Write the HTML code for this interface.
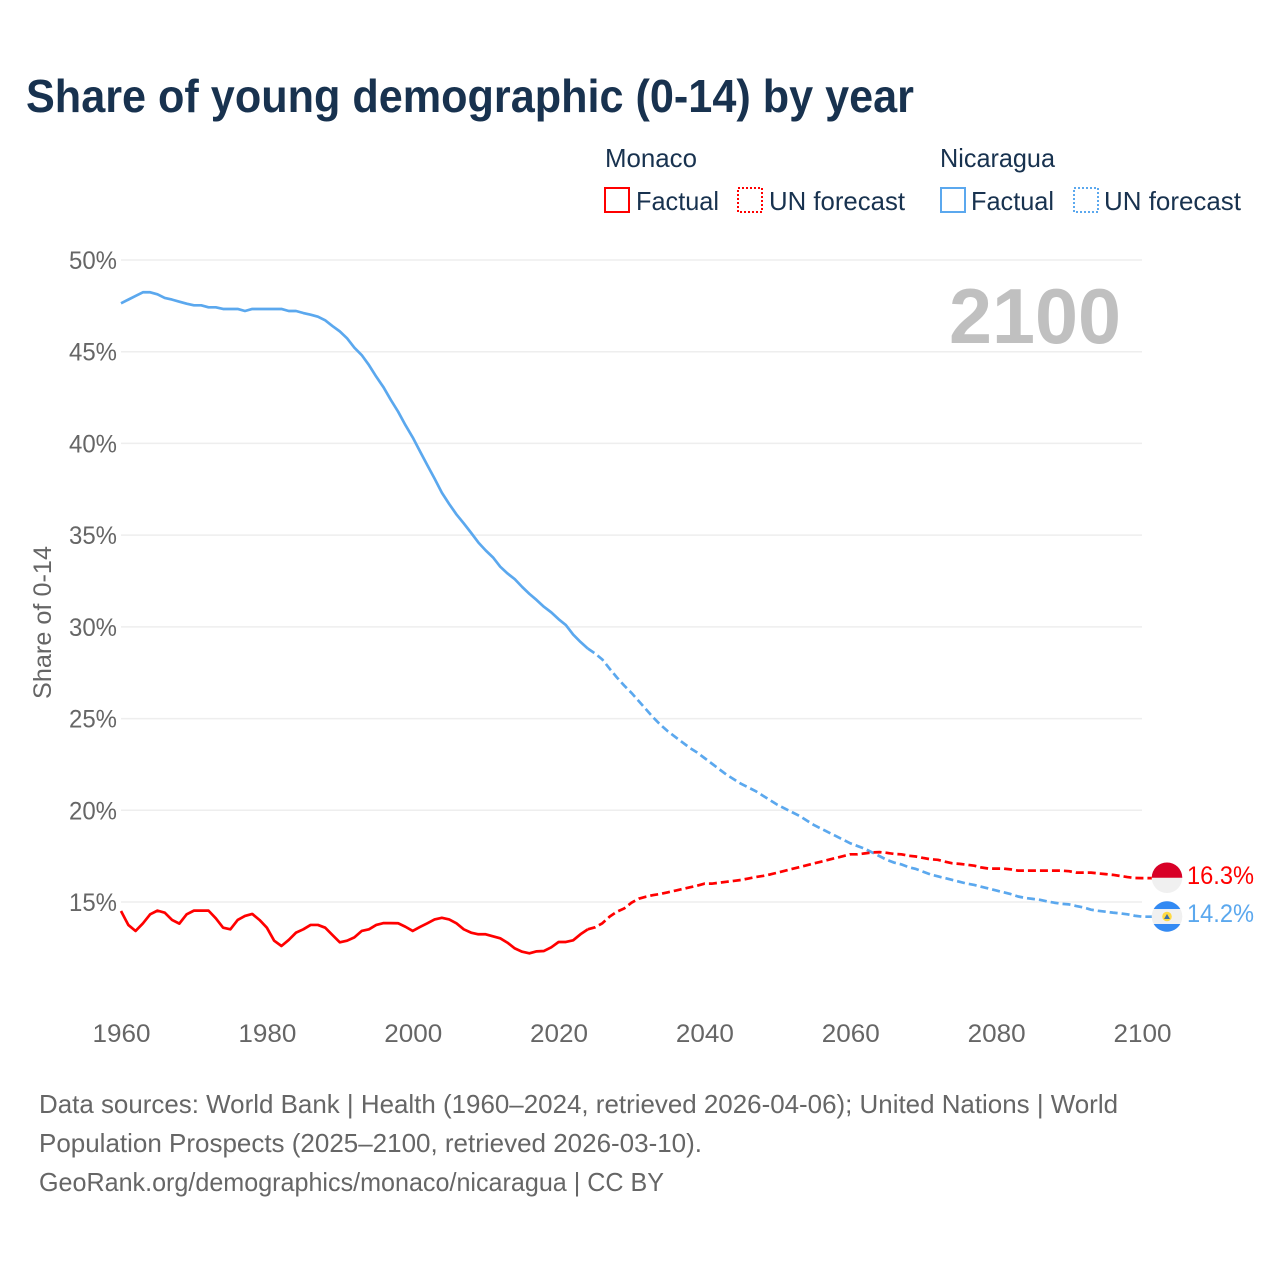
<!DOCTYPE html>
<html lang="en">
<head>
<meta charset="utf-8">
<title>Share of young demographic (0-14) by year</title>
<style>
html,body{margin:0;padding:0;background:#fff;}
svg{display:block;font-family:"Liberation Sans",sans-serif;}
</style>
</head>
<body>
<svg id="chart" width="1280" height="1280" viewBox="0 0 1280 1280" xmlns="http://www.w3.org/2000/svg">
<rect width="1280" height="1280" fill="#fff"/>
<text x="26" y="112" font-size="46" font-weight="700" fill="#18324f" textLength="888" lengthAdjust="spacingAndGlyphs">Share of young demographic (0-14) by year</text>

<g font-size="26" fill="#18324f">
<text x="605" y="167" textLength="92" lengthAdjust="spacingAndGlyphs">Monaco</text>
<text x="940" y="167" textLength="115" lengthAdjust="spacingAndGlyphs">Nicaragua</text>
<rect x="605" y="188" width="24" height="24" fill="none" stroke="#ff0000" stroke-width="2" shape-rendering="crispEdges"/>
<text x="636" y="210" textLength="83" lengthAdjust="spacingAndGlyphs">Factual</text>
<rect x="738" y="188" width="24" height="24" fill="none" stroke="#ff0000" stroke-width="2" stroke-dasharray="2 2" shape-rendering="crispEdges"/>
<text x="769" y="210" textLength="136" lengthAdjust="spacingAndGlyphs">UN forecast</text>
<rect x="941" y="188" width="24" height="24" fill="none" stroke="#5ba8ee" stroke-width="2" shape-rendering="crispEdges"/>
<text x="971" y="210" textLength="83" lengthAdjust="spacingAndGlyphs">Factual</text>
<rect x="1074" y="188" width="24" height="24" fill="none" stroke="#5ba8ee" stroke-width="2" stroke-dasharray="2 2" shape-rendering="crispEdges"/>
<text x="1104" y="210" textLength="137" lengthAdjust="spacingAndGlyphs">UN forecast</text>
</g>

<g id="grid"></g>
<g id="yticks"></g>
<g id="xticks"></g>

<text transform="translate(51,699) rotate(-90)" font-size="25" fill="#666" textLength="153" lengthAdjust="spacingAndGlyphs">Share of 0-14</text>
<text x="949" y="343" font-size="78" font-weight="700" fill="#c0c0c0" textLength="172" lengthAdjust="spacingAndGlyphs">2100</text>

<g id="lines"></g>

<g>
<circle cx="1167" cy="877.7" r="15.3" fill="#f0f0f0"/>
<path d="M1151.7 877.7a15.3 15.3 0 0 1 30.6 0z" fill="#d80027"/>
</g>
<g>
<circle cx="1167" cy="916.5" r="15.3" fill="#f0f0f0"/>
<path d="M1153.7 909a15.3 15.3 0 0 1 26.6 0z" fill="#338af3"/>
<path d="M1153.7 924a15.3 15.3 0 0 0 26.6 0z" fill="#338af3"/>
<circle cx="1167" cy="916.5" r="4.8" fill="#ffda44"/>
<path d="M1164 919l3-5 3 5z" fill="#3a6ea5"/>
</g>
<text x="1187" y="884" font-size="25" fill="#ff0000" textLength="67" lengthAdjust="spacingAndGlyphs">16.3%</text>
<text x="1187" y="922" font-size="25" fill="#5ba8ee" textLength="67" lengthAdjust="spacingAndGlyphs">14.2%</text>

<g font-size="26" fill="#666">
<text x="39" y="1113" textLength="1079" lengthAdjust="spacingAndGlyphs">Data sources: World Bank | Health (1960–2024, retrieved 2026-04-06); United Nations | World</text>
<text x="39" y="1152" textLength="663" lengthAdjust="spacingAndGlyphs">Population Prospects (2025–2100, retrieved 2026-03-10).</text>
<text x="39" y="1191" textLength="625" lengthAdjust="spacingAndGlyphs">GeoRank.org/demographics/monaco/nicaragua | CC BY</text>
</g>
</svg>

<script>
const xTickYears = [1960, 1980, 2000, 2020, 2040, 2060, 2080, 2100];
const yTickValues = [15, 20, 25, 30, 35, 40, 45, 50];
const firstYear = 1960;
const forecastFirstYear = 2025;

const monacoFactual = [
14.51,13.75,13.42,13.83,14.33,14.53,14.42,14.02,13.82,14.33,
14.53,14.53,14.53,14.11,13.60,13.51,14.02,14.24,14.35,14.02,
13.60,12.89,12.60,12.93,13.33,13.51,13.75,13.75,13.60,13.20,
12.80,12.89,13.07,13.42,13.51,13.75,13.85,13.85,13.84,13.65,
13.42,13.64,13.84,14.05,14.14,14.05,13.84,13.51,13.33,13.24,
13.24,13.13,13.02,12.78,12.47,12.29,12.20,12.31,12.33,12.53,
12.82,12.82,12.91,13.24,13.51
];
const monacoForecast = [
13.62,13.84,14.20,14.47,14.65,14.96,15.18,15.29,15.38,15.44,
15.53,15.62,15.71,15.80,15.89,16.00,16.00,16.05,16.10,16.15,
16.20,16.28,16.36,16.42,16.50,16.60,16.70,16.80,16.90,17.00,
17.10,17.20,17.30,17.40,17.50,17.60,17.60,17.65,17.70,17.72,
17.68,17.62,17.60,17.52,17.48,17.40,17.33,17.30,17.20,17.11,
17.08,17.03,16.98,16.88,16.82,16.82,16.82,16.78,16.71,16.71,
16.71,16.71,16.71,16.71,16.71,16.68,16.60,16.60,16.60,16.56,
16.52,16.48,16.42,16.36,16.31,16.30
];
const nicaraguaFactual = [
47.64,47.84,48.04,48.24,48.24,48.13,47.93,47.84,47.73,47.62,
47.53,47.53,47.42,47.42,47.33,47.33,47.33,47.22,47.33,47.33,
47.33,47.33,47.33,47.22,47.22,47.11,47.02,46.91,46.71,46.40,
46.11,45.73,45.22,44.82,44.27,43.64,43.06,42.37,41.73,41.00,
40.33,39.57,38.82,38.08,37.31,36.70,36.13,35.64,35.13,34.60,
34.17,33.79,33.28,32.91,32.60,32.18,31.80,31.46,31.09,30.79,
30.42,30.10,29.58,29.18,28.82
];
const nicaraguaForecast = [
28.55,28.22,27.72,27.24,26.80,26.40,25.95,25.50,25.05,24.65,
24.30,24.00,23.70,23.40,23.15,22.85,22.55,22.25,21.95,21.70,
21.45,21.25,21.05,20.80,20.55,20.30,20.10,19.90,19.70,19.45,
19.20,19.00,18.80,18.60,18.40,18.20,18.05,17.90,17.70,17.50,
17.30,17.15,17.05,16.90,16.80,16.65,16.50,16.40,16.30,16.20,
16.10,16.00,15.93,15.83,15.73,15.63,15.53,15.43,15.30,15.22,
15.17,15.12,15.03,14.96,14.90,14.87,14.78,14.70,14.58,14.52,
14.47,14.42,14.38,14.33,14.25,14.20
];

const NS = 'http://www.w3.org/2000/svg';
function xScale(year) { return 121 + (year - 1960) * (1142 - 121) / 140; }
function yScale(value) { return 902 - (value - 15) * (902 - 260) / 35; }

function make(tag, parent, attrs, text) {
  const el = document.createElementNS(NS, tag);
  for (const k in attrs) el.setAttribute(k, attrs[k]);
  if (text !== undefined) el.textContent = text;
  parent.appendChild(el);
  return el;
}

const gridG = document.getElementById('grid');
const yG = document.getElementById('yticks');
const xG = document.getElementById('xticks');
const linesG = document.getElementById('lines');

yTickValues.forEach(function (v) {
  const line = make('line', gridG, {x1: 121, x2: 1142, y1: yScale(v), y2: yScale(v), stroke: '#eeeeee', 'stroke-width': 1.5});
  
  
  const label = make('text', yG, {x: 69, y: yScale(v) + 9, 'font-size': 25, fill: '#666', textLength: 48, lengthAdjust: 'spacingAndGlyphs'}, v + '%');
  
  
});

xTickYears.forEach(function (year) {
  const label = make('text', xG, {x: xScale(year) - 28.5, y: 1042, 'font-size': 25, fill: '#666', textLength: 58, lengthAdjust: 'spacingAndGlyphs'}, String(year));
  
  
});

function pathFrom(points) {
  return points.map(function (p, i) {
    return (i ? 'L' : 'M') + xScale(p[0]).toFixed(2) + ' ' + yScale(p[1]).toFixed(2);
  }).join(' ');
}

function drawSeries(key, color, factual, forecast) {
  const factualPts = factual.map(function (v, i) { return [firstYear + i, v]; });
  const lastFactual = factualPts[factualPts.length - 1];
  const forecastPts = [lastFactual].concat(forecast.map(function (v, i) { return [forecastFirstYear + i, v]; }));
  const solid = make('path', linesG, {d: pathFrom(factualPts), fill: 'none', stroke: color, 'stroke-width': 2.7, 'stroke-linejoin': 'round'});
  
  
  const lastForecast = forecastPts[forecastPts.length - 1];
  const dashed = make('path', linesG, {d: pathFrom(forecastPts) + ' L1152 ' + yScale(lastForecast[1]).toFixed(2), fill: 'none', stroke: color, 'stroke-width': 2.7, 'stroke-linejoin': 'round', 'stroke-dasharray': '8 4'});
  
  
}

drawSeries('nicaragua', '#5ba8ee', nicaraguaFactual, nicaraguaForecast);
drawSeries('monaco', '#ff0000', monacoFactual, monacoForecast);
</script>
</body>
</html>
